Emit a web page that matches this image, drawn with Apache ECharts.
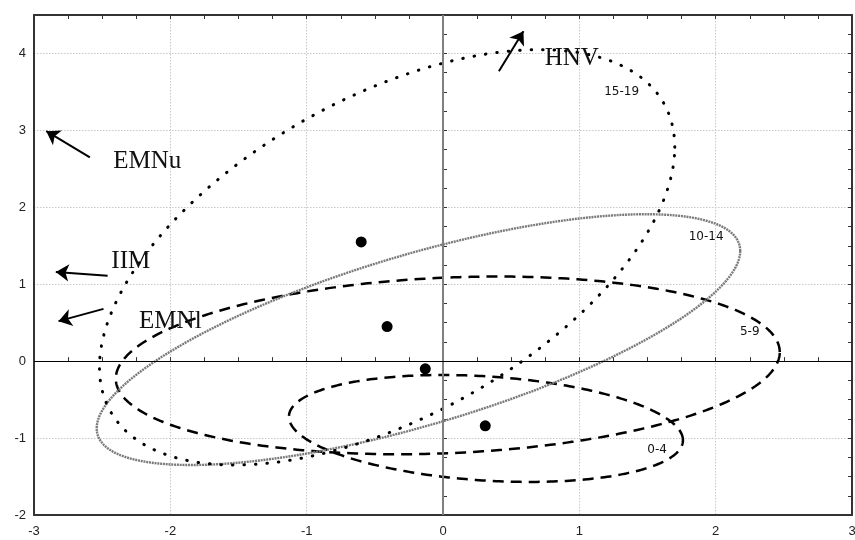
<!DOCTYPE html>
<html>
<head>
<meta charset="utf-8">
<script src="https://cdn.jsdelivr.net/npm/echarts@6.0.0/dist/echarts.min.js"></script>
<style>
  html, body { margin: 0; padding: 0; background: #fff; }
  #chart { width: 855px; height: 540px; }
</style>
</head>
<body>
<div id="chart"></div>
<script>
// Group centroids
const pointX = [-0.60, -0.41, -0.13, 0.31];
const pointY = [1.55, 0.45, -0.10, -0.84];

// Age-group ellipses: centre, half-extent along x and y, phase between x and y (degrees)
const ellipseNames = ['0-4', '5-9', '10-14', '15-19'];
const ellipseCx = [0.315, 0.035, -0.18, -0.41];
const ellipseCy = [-0.875, -0.055, 0.28, 1.35];
const ellipseRx = [1.445, 2.435, 2.36, 2.11];
const ellipseRy = [0.695, 1.155, 1.63, 2.70];
const ellipsePhase = [102.7, 81.4, 45, 58];
const ellipseLabelX = [1.57, 2.25, 1.93, 1.31];
const ellipseLabelY = [-1.15, 0.38, 1.61, 3.50];

// Variable direction arrows
const arrowNames = ['HNV', 'EMNu', 'IIM', 'EMNl'];
const arrowTailX = [0.41, -2.59, -2.46, -2.49];
const arrowTailY = [3.77, 2.65, 1.11, 0.68];
const arrowHeadX = [0.59, -2.91, -2.84, -2.82];
const arrowHeadY = [4.29, 2.99, 1.16, 0.52];
const arrowLabelX = [0.945, -2.17, -2.29, -2.00];
const arrowLabelY = [3.93, 2.59, 1.30, 0.52];

// Axis ranges
const xRange = [-3, 3];
const yRange = [-2, 4.5];

// Stroke look of each ellipse
const ellipseLook = {
  '0-4':   { color: '#000', width: 2.5, dash: [11, 7], cap: 'butt' },
  '5-9':   { color: '#000', width: 2.5, dash: [11, 7], cap: 'butt' },
  '10-14': { color: '#7a7a7a', width: 2.4, dash: [2, 0.8], cap: 'butt' },
  '15-19': { color: '#000', width: 3, dash: [0.5, 11], cap: 'round' }
};

const chart = echarts.init(document.getElementById('chart'), null, { renderer: 'canvas' });

function renderEllipse(params, api) {
  const cx = api.value(0), cy = api.value(1);
  const rx = api.value(2), ry = api.value(3);
  const ph = api.value(4) * Math.PI / 180;
  const pts = [];
  const n = 360;
  for (let k = 0; k <= n; k++) {
    const t = 2 * Math.PI * k / n;
    pts.push(api.coord([cx + rx * Math.cos(t), cy + ry * Math.cos(t - ph)]));
  }
  const look = ellipseLook[ellipseNames[params.dataIndex]];
  return {
    type: 'polyline',
    shape: { points: pts },
    style: {
      stroke: look.color, lineWidth: look.width,
      lineDash: look.dash, lineCap: look.cap, lineJoin: 'round', fill: null
    }
  };
}

function textRenderer(texts, font) {
  return function (params, api) {
    const p = api.coord([api.value(0), api.value(1)]);
    return {
      type: 'text', x: p[0], y: p[1],
      style: {
        text: texts[params.dataIndex], font: font, fill: '#111',
        align: 'center', verticalAlign: 'middle'
      }
    };
  };
}

const tickFont = { color: '#222', fontSize: 13, fontFamily: 'Liberation Sans, Arial, sans-serif' };
const frame = { show: true, onZero: false, lineStyle: { color: '#333', width: 2 } };
const minorTicks = { show: true, inside: true, length: 4, lineStyle: { color: '#333', width: 1 } };

function axisPair(kind, range) {
  const isX = kind === 'x';
  return [
    // labelled axis with grid lines
    {
      type: 'value', position: isX ? 'bottom' : 'left', min: range[0], max: range[1], interval: 1,
      axisLine: frame, axisTick: { show: false },
      axisLabel: Object.assign({ margin: isX ? 10 : 8, showMaxLabel: isX, showMinLabel: true, hideOverlap: false }, tickFont),
      splitLine: { show: true, lineStyle: { color: '#c8c8c8', type: [1.5, 1.5], width: 1 } }
    },
    // fine ticks on the same side
    {
      type: 'value', position: isX ? 'bottom' : 'left', min: range[0], max: range[1], interval: 0.25,
      axisLine: { show: false }, axisTick: minorTicks, axisLabel: { show: false }, splitLine: { show: false }
    },
    // mirrored frame side with fine ticks
    {
      type: 'value', position: isX ? 'top' : 'right', min: range[0], max: range[1], interval: 0.25,
      axisLine: frame, axisTick: minorTicks, axisLabel: { show: false }, splitLine: { show: false }
    }
  ];
}

const option = {
  animation: false,
  backgroundColor: '#fff',
  grid: { left: 34, right: 3, top: 15, bottom: 25, containLabel: false, outerBoundsMode: 'none' },
  xAxis: axisPair('x', xRange),
  yAxis: axisPair('y', yRange),
  series: [
    {
      type: 'scatter', xAxisIndex: 0, yAxisIndex: 0, z: 3,
      symbol: 'circle', symbolSize: 11,
      itemStyle: { color: '#000', opacity: 1 },
      data: pointX.map((x, i) => [x, pointY[i]]),
      markLine: {
        silent: true, symbol: 'none', label: { show: false },
        data: [
          { xAxis: 0, lineStyle: { color: '#808080', width: 2, type: 'solid' } },
          { yAxis: 0, lineStyle: { color: '#000', width: 1.2, type: 'solid' } }
        ]
      }
    },
    {
      type: 'custom', xAxisIndex: 0, yAxisIndex: 0, z: 4,
      renderItem: renderEllipse,
      data: ellipseNames.map((n, i) => [ellipseCx[i], ellipseCy[i], ellipseRx[i], ellipseRy[i], ellipsePhase[i]])
    },
    {
      type: 'lines', coordinateSystem: 'cartesian2d', xAxisIndex: 0, yAxisIndex: 0, z: 5,
      symbol: ['none', 'arrow'], symbolSize: 13,
      lineStyle: { color: '#000', width: 2, opacity: 1, curveness: 0 },
      data: arrowNames.map((n, i) => ({
        coords: [[arrowTailX[i], arrowTailY[i]], [arrowHeadX[i], arrowHeadY[i]]]
      }))
    },
    {
      type: 'custom', xAxisIndex: 0, yAxisIndex: 0, z: 6,
      renderItem: textRenderer(arrowNames, '25px "Liberation Serif", "Times New Roman", serif'),
      data: arrowNames.map((n, i) => [arrowLabelX[i], arrowLabelY[i]])
    },
    {
      type: 'custom', xAxisIndex: 0, yAxisIndex: 0, z: 6,
      renderItem: textRenderer(ellipseNames, '12px "DejaVu Sans", Verdana, sans-serif'),
      data: ellipseNames.map((n, i) => [ellipseLabelX[i], ellipseLabelY[i]])
    }
  ]
};

chart.setOption(option);
</script>
</body>
</html>
